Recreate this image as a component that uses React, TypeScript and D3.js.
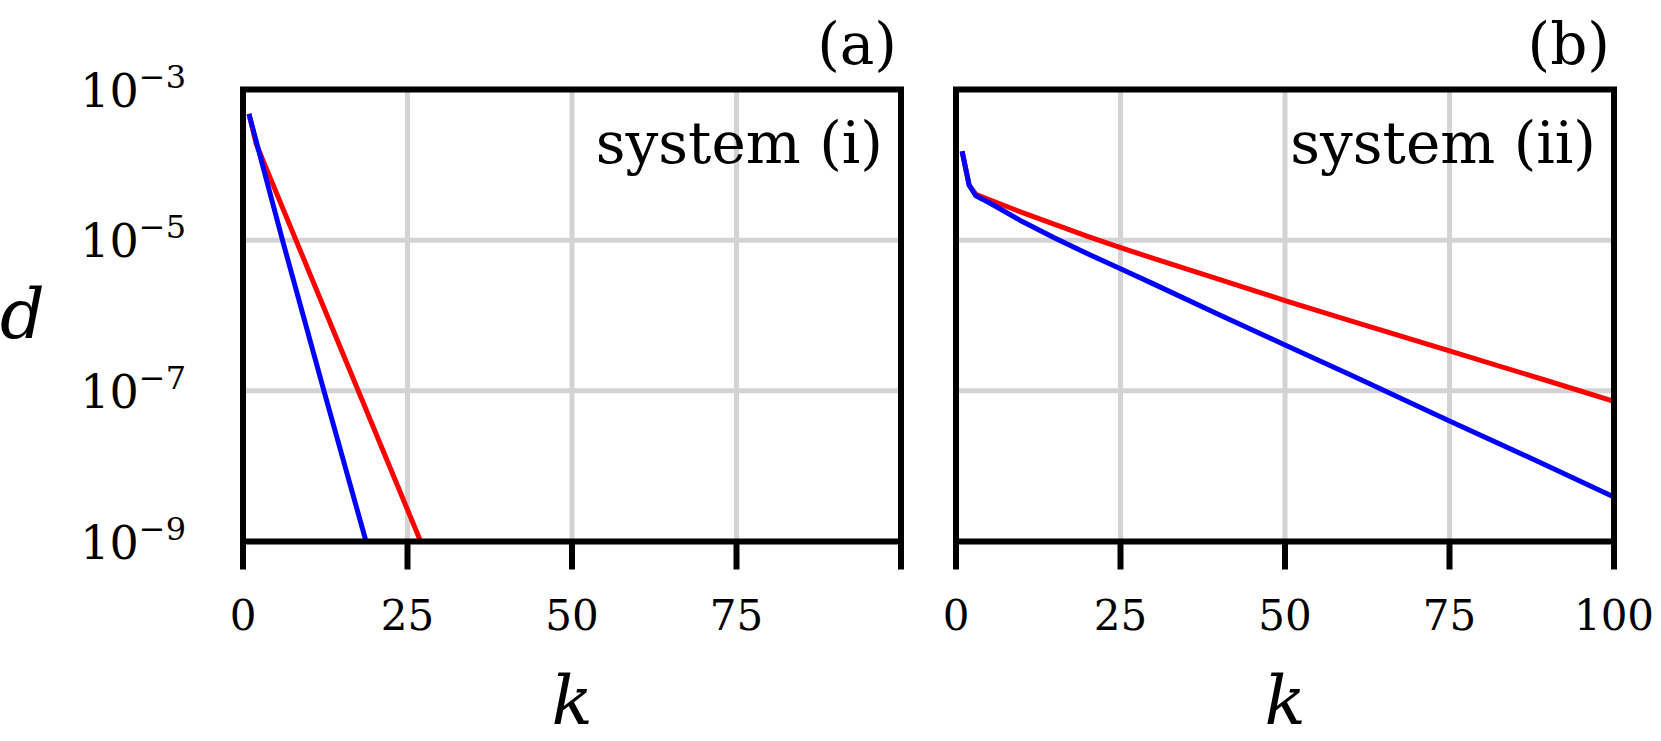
import React from 'react';
import * as d3 from 'd3';

// ---- data ----
const kABlue = [1, 6, 12.3, 18.7, 20];
const dABlue = [4.4e-4, 1.0e-5, 1.0e-7, 1.0e-9, 3.8e-10];
const kARed = [1, 2, 15, 27, 30];
const dARed = [4.4e-4, 1.9e-4, 3.4e-7, 1.0e-9, 2.3e-10];

const kB = [1, 2, 3, 5, 10, 15, 20, 25, 30, 40, 50, 60, 75, 90, 100];
const dBBlue = [1.41e-4, 5.37e-5, 3.89e-5, 3.16e-5, 1.78e-5, 1.07e-5, 6.6e-6, 4.17e-6, 2.63e-6, 1.02e-6, 4.07e-7, 1.62e-7, 3.98e-8, 1.0e-8, 3.89e-9];
const dBRed = [1.41e-4, 5.37e-5, 4.07e-5, 3.47e-5, 2.34e-5, 1.62e-5, 1.12e-5, 7.94e-6, 5.75e-6, 3.02e-6, 1.58e-6, 8.5e-7, 3.39e-7, 1.35e-7, 7.24e-8];

const xTicks = [0, 25, 50, 75, 100];
const xTickLabelsA = [0, 25, 50, 75];
const xTickLabelsB = [0, 25, 50, 75, 100];
const yTickExps = [-3, -5, -7, -9];
const panelTags = ['(a)', '(b)'];
const systemNames = ['system (i)', 'system (ii)'];

const W = 1661;
const H = 741;
const TOP = 89.5;
const BOTTOM = 541.5;
const FONT = '"DejaVu Serif", serif';

const zip = (ks: number[], ds: number[]) => ks.map((k, i) => [k, ds[i]] as [number, number]);

const panels = [
  { id: 'a', x0: 243, x1: 901, tag: panelTags[0], sys: systemNames[0], yLabels: true, xLabels: xTickLabelsA,
    red: zip(kARed, dARed), blue: zip(kABlue, dABlue) },
  { id: 'b', x0: 956, x1: 1614, tag: panelTags[1], sys: systemNames[1], yLabels: false, xLabels: xTickLabelsB,
    red: zip(kB, dBRed), blue: zip(kB, dBBlue) },
];

export default function App() {
  const y = d3.scaleLog().domain([1e-9, 1e-3]).range([BOTTOM, TOP]);
  return (
    <svg width={W} height={H} style={{ position: 'absolute', left: 0, top: 0, background: '#fff' }}>
      <rect x={0} y={0} width={W} height={H} fill="#fff" />
      {panels.map((p) => {
        const x = d3.scaleLinear().domain([0, 100]).range([p.x0, p.x1]);
        const line = d3.line<[number, number]>().x((d) => x(d[0])).y((d) => y(d[1]));
        const clipId = `clip-${p.id}`;
        return (
          <g key={p.id}>
            <defs>
              <clipPath id={clipId}>
                <rect x={p.x0} y={TOP} width={p.x1 - p.x0} height={BOTTOM - TOP} />
              </clipPath>
            </defs>
            {/* grid */}
            {xTicks.map((t) => (
              <line key={'gx' + t} x1={x(t)} x2={x(t)} y1={TOP} y2={BOTTOM} stroke="#d3d3d3" strokeWidth={5} />
            ))}
            {yTickExps.map((e) => (
              <line key={'gy' + e} x1={p.x0} x2={p.x1} y1={y(Math.pow(10, e))} y2={y(Math.pow(10, e))} stroke="#d3d3d3" strokeWidth={5} />
            ))}
            {/* series */}
            <g clipPath={`url(#${clipId})`}>
              <path d={line(p.red) || ''} fill="none" stroke="#ff0000" strokeWidth={5} strokeLinejoin="round" strokeLinecap="square" />
              <path d={line(p.blue) || ''} fill="none" stroke="#0000ff" strokeWidth={5} strokeLinejoin="round" strokeLinecap="square" />
            </g>
            {/* frame */}
            <rect x={p.x0} y={TOP} width={p.x1 - p.x0} height={BOTTOM - TOP} fill="none" stroke="#000" strokeWidth={6} />
            {/* x ticks */}
            {xTicks.map((t) => (
              <line key={'tx' + t} x1={x(t)} x2={x(t)} y1={BOTTOM} y2={BOTTOM + 28} stroke="#000" strokeWidth={6} />
            ))}
            {p.xLabels.map((t) => (
              <text key={'lx' + t} x={x(t)} y={630} textAnchor="middle" fontFamily={FONT} fontSize={42} fill="#000">
                {t}
              </text>
            ))}
            {/* y tick labels */}
            {p.yLabels &&
              yTickExps.map((e) => (
                <text key={'ly' + e} x={186} y={y(Math.pow(10, e)) + 17} textAnchor="end" fontFamily={FONT} fontSize={46} fill="#000">
                  <tspan>10</tspan>
                  <tspan dy={-19} fontSize={32}>{'\u2212' + Math.abs(e)}</tspan>
                </text>
              ))}
            {/* annotations */}
            <text x={p.x1 - 4} y={64} textAnchor="end" fontFamily={FONT} fontSize={58} fill="#000">{p.tag}</text>
            <text x={p.x1 - 18} y={163} textAnchor="end" fontFamily={FONT} fontSize={58} fill="#000">{p.sys}</text>
            {/* x axis label */}
            <text x={(p.x0 + p.x1) / 2} y={724} textAnchor="middle" fontFamily={FONT} fontStyle="italic" fontSize={68} fill="#000">k</text>
          </g>
        );
      })}
      <text x={0} y={338} fontFamily={FONT} fontStyle="italic" fontSize={70} fill="#000">d</text>
    </svg>
  );
}
